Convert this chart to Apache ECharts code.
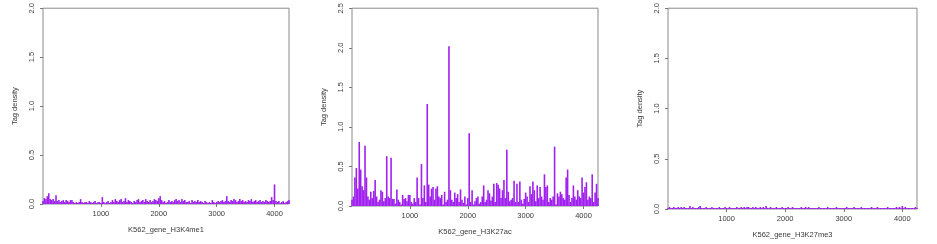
<!DOCTYPE html>
<html>
<head>
<meta charset="utf-8">
<script src="https://cdn.jsdelivr.net/npm/echarts@6/dist/echarts.min.js"></script>
<style>
  html, body { margin: 0; padding: 0; background: #fff; }
  #chart { width: 937px; height: 244px; }
</style>
</head>
<body>
<div id="chart"></div>
<script>
// gene positions (bp bins)
const positions = [
  0, 25, 50, 75, 100, 125, 150, 175, 200, 225,
  250, 275, 300, 325, 350, 375, 400, 425, 450, 475,
  500, 525, 550, 575, 600, 625, 650, 675, 700, 725,
  750, 775, 800, 825, 850, 875, 900, 925, 950, 975,
  1000, 1025, 1050, 1075, 1100, 1125, 1150, 1175, 1200, 1225,
  1250, 1275, 1300, 1325, 1350, 1375, 1400, 1425, 1450, 1475,
  1500, 1525, 1550, 1575, 1600, 1625, 1650, 1675, 1700, 1725,
  1750, 1775, 1800, 1825, 1850, 1875, 1900, 1925, 1950, 1975,
  2000, 2025, 2050, 2075, 2100, 2125, 2150, 2175, 2200, 2225,
  2250, 2275, 2300, 2325, 2350, 2375, 2400, 2425, 2450, 2475,
  2500, 2525, 2550, 2575, 2600, 2625, 2650, 2675, 2700, 2725,
  2750, 2775, 2800, 2825, 2850, 2875, 2900, 2925, 2950, 2975,
  3000, 3025, 3050, 3075, 3100, 3125, 3150, 3175, 3200, 3225,
  3250, 3275, 3300, 3325, 3350, 3375, 3400, 3425, 3450, 3475,
  3500, 3525, 3550, 3575, 3600, 3625, 3650, 3675, 3700, 3725,
  3750, 3775, 3800, 3825, 3850, 3875, 3900, 3925, 3950, 3975,
  4000, 4025, 4050, 4075, 4100, 4125, 4150, 4175, 4200, 4225, 4250
]

const h3k4me1 = [
  0.03, 0.06, 0.05, 0.08, 0.11, 0.05, 0.04, 0.05, 0.03, 0.09,
  0.03, 0.04, 0.02, 0.03, 0.04, 0.02, 0.04, 0.03, 0.02, 0.04,
  0.04, 0.02, 0.01, 0.02, 0.01, 0.02, 0.05, 0.02, 0.01, 0.02,
  0.02, 0.01, 0.03, 0.02, 0.01, 0.02, 0.03, 0.01, 0.02, 0.02,
  0.01, 0.07, 0.02, 0.01, 0.02, 0.03, 0.01, 0.02, 0.04, 0.02,
  0.05, 0.03, 0.02, 0.04, 0.05, 0.02, 0.03, 0.06, 0.02, 0.04,
  0.03, 0.02, 0.01, 0.03, 0.02, 0.04, 0.05, 0.02, 0.03, 0.04,
  0.02, 0.05, 0.03, 0.02, 0.04, 0.02, 0.03, 0.05, 0.04, 0.03,
  0.06, 0.08, 0.04, 0.02, 0.03, 0.01, 0.02, 0.04, 0.02, 0.03,
  0.02, 0.04, 0.05, 0.03, 0.04, 0.02, 0.05, 0.03, 0.04, 0.02,
  0.02, 0.03, 0.01, 0.04, 0.02, 0.03, 0.02, 0.04, 0.02, 0.03,
  0.02, 0.01, 0.03, 0.02, 0.01, 0.02, 0.01, 0.04, 0.02, 0.01,
  0.02, 0.03, 0.02, 0.03, 0.04, 0.02, 0.03, 0.08, 0.03, 0.02,
  0.04, 0.03, 0.05, 0.04, 0.02, 0.03, 0.05, 0.03, 0.04, 0.02,
  0.03, 0.02, 0.04, 0.03, 0.05, 0.02, 0.03, 0.04, 0.02, 0.03,
  0.04, 0.02, 0.03, 0.02, 0.04, 0.03, 0.02, 0.03, 0.07, 0.04,
  0.20, 0.03, 0.02, 0.03, 0.01, 0.02, 0.03, 0.01, 0.02, 0.03, 0.04
]

const h3k27ac = [
  0.08, 0.12, 0.36, 0.48, 0.22, 0.81, 0.46, 0.25, 0.20, 0.76,
  0.36, 0.12, 0.08, 0.18, 0.10, 0.19, 0.33, 0.12, 0.05, 0.08,
  0.20, 0.18, 0.06, 0.10, 0.63, 0.12, 0.10, 0.61, 0.09, 0.09,
  0.03, 0.21, 0.08, 0.05, 0.02, 0.14, 0.09, 0.10, 0.06, 0.14,
  0.14, 0.05, 0.03, 0.10, 0.05, 0.36, 0.10, 0.02, 0.53, 0.10,
  0.26, 0.05, 1.29, 0.27, 0.12, 0.22, 0.24, 0.08, 0.22, 0.25,
  0.12, 0.10, 0.14, 0.02, 0.18, 0.05, 0.08, 2.02, 0.20, 0.08,
  0.05, 0.17, 0.10, 0.15, 0.05, 0.21, 0.08, 0.04, 0.12, 0.02,
  0.10, 0.92, 0.05, 0.20, 0.02, 0.06, 0.10, 0.12, 0.03, 0.05,
  0.12, 0.26, 0.05, 0.08, 0.20, 0.16, 0.07, 0.12, 0.28, 0.05,
  0.29, 0.27, 0.22, 0.10, 0.20, 0.33, 0.10, 0.71, 0.18, 0.06,
  0.08, 0.10, 0.32, 0.05, 0.28, 0.05, 0.31, 0.08, 0.03, 0.09,
  0.17, 0.12, 0.05, 0.25, 0.15, 0.31, 0.20, 0.06, 0.26, 0.10,
  0.24, 0.12, 0.08, 0.40, 0.24, 0.26, 0.05, 0.10, 0.08, 0.12,
  0.75, 0.02, 0.16, 0.12, 0.18, 0.15, 0.10, 0.08, 0.36, 0.46,
  0.14, 0.05, 0.10, 0.26, 0.12, 0.08, 0.20, 0.12, 0.10, 0.36,
  0.17, 0.24, 0.30, 0.08, 0.12, 0.10, 0.40, 0.05, 0.17, 0.28, 0.10
]

const h3k27me3 = [
  0.01, 0.02, 0.01, 0.01, 0.02, 0.01, 0.01, 0.02, 0.01, 0.02,
  0.01, 0.02, 0.01, 0.01, 0.01, 0.03, 0.01, 0.02, 0.01, 0.01,
  0.01, 0.02, 0.03, 0.01, 0.01, 0.01, 0.02, 0.01, 0.01, 0.01,
  0.02, 0.01, 0.01, 0.01, 0.01, 0.02, 0.01, 0.01, 0.01, 0.02,
  0.01, 0.01, 0.02, 0.01, 0.01, 0.01, 0.01, 0.02, 0.01, 0.01,
  0.02, 0.01, 0.02, 0.01, 0.02, 0.02, 0.01, 0.01, 0.02, 0.01,
  0.02, 0.01, 0.01, 0.02, 0.01, 0.02, 0.01, 0.03, 0.01, 0.01,
  0.02, 0.01, 0.01, 0.01, 0.02, 0.01, 0.01, 0.01, 0.02, 0.01,
  0.01, 0.01, 0.02, 0.01, 0.01, 0.02, 0.01, 0.01, 0.01, 0.01,
  0.01, 0.02, 0.01, 0.01, 0.02, 0.01, 0.02, 0.01, 0.01, 0.01,
  0.01, 0.01, 0.01, 0.02, 0.01, 0.01, 0.01, 0.01, 0.01, 0.02,
  0.01, 0.01, 0.01, 0.01, 0.01, 0.02, 0.01, 0.01, 0.01, 0.01,
  0.01, 0.01, 0.02, 0.01, 0.01, 0.01, 0.01, 0.02, 0.01, 0.01,
  0.01, 0.01, 0.02, 0.01, 0.01, 0.01, 0.01, 0.01, 0.01, 0.02,
  0.01, 0.01, 0.01, 0.02, 0.01, 0.01, 0.01, 0.01, 0.01, 0.01,
  0.02, 0.01, 0.01, 0.01, 0.01, 0.01, 0.02, 0.01, 0.02, 0.01,
  0.03, 0.01, 0.02, 0.01, 0.01, 0.01, 0.01, 0.01, 0.01, 0.02, 0.01
]

const panelNames = ['K562_gene_H3K4me1', 'K562_gene_H3K27ac', 'K562_gene_H3K27me3']
const yMaxes = [2.0, 2.5, 2.0]
const xTicks = [1000, 2000, 3000, 4000]

const chart = echarts.init(document.getElementById('chart'))

const textColor = '#3a3a3a'
const font = 'Liberation Sans, Arial, sans-serif'

const grids = [
  { left: 43, top: 5, width: 246, height: 199 },
  { left: 352, top: 6, width: 246, height: 200 },
  { left: 668, top: 7, width: 249, height: 202 }
]

const seriesData = [h3k4me1, h3k27ac, h3k27me3]

const option = {
  backgroundColor: '#fff',
  animation: false,
  grid: grids.map((g) => ({
    ...g,
    show: true,
    borderColor: '#8a8a8a',
    borderWidth: 1,
    containLabel: false
  })),
  xAxis: panelNames.map((name, i) => ({
    type: 'value',
    gridIndex: i,
    min: 0,
    max: 4250,
    interval: 1000,
    name,
    nameLocation: 'middle',
    nameGap: 22,
    nameTextStyle: { color: textColor, fontSize: 7.5, fontFamily: font },
    splitLine: { show: false },
    axisLine: { show: false },
    axisTick: { show: true, length: 3, lineStyle: { color: '#777' } },
    axisLabel: {
      color: textColor,
      fontSize: 7.5,
      fontFamily: font,
      margin: 6,
      showMinLabel: false,
      showMaxLabel: false,
      formatter: (v) => (xTicks.includes(v) ? String(v) : '')
    }
  })),
  yAxis: yMaxes.map((max, i) => ({
    type: 'value',
    gridIndex: i,
    min: 0,
    max,
    interval: 0.5,
    name: 'Tag density',
    nameLocation: 'middle',
    nameGap: 24,
    nameTextStyle: { color: textColor, fontSize: 7.5, fontFamily: font },
    splitLine: { show: false },
    axisLine: { show: false },
    axisTick: { show: true, length: 3, lineStyle: { color: '#777' } },
    axisLabel: {
      color: textColor,
      fontSize: 7.5,
      fontFamily: font,
      margin: 7,
      rotate: 90,
      formatter: (v) => v.toFixed(1)
    }
  })),
  series: seriesData.map((vals, i) => ({
    type: 'bar',
    xAxisIndex: i,
    yAxisIndex: i,
    barWidth: 1.6,
    itemStyle: { color: '#A020F0' },
    data: positions.map((x, j) => [x, vals[j]])
  }))
}

chart.setOption(option)
</script>
</body>
</html>
